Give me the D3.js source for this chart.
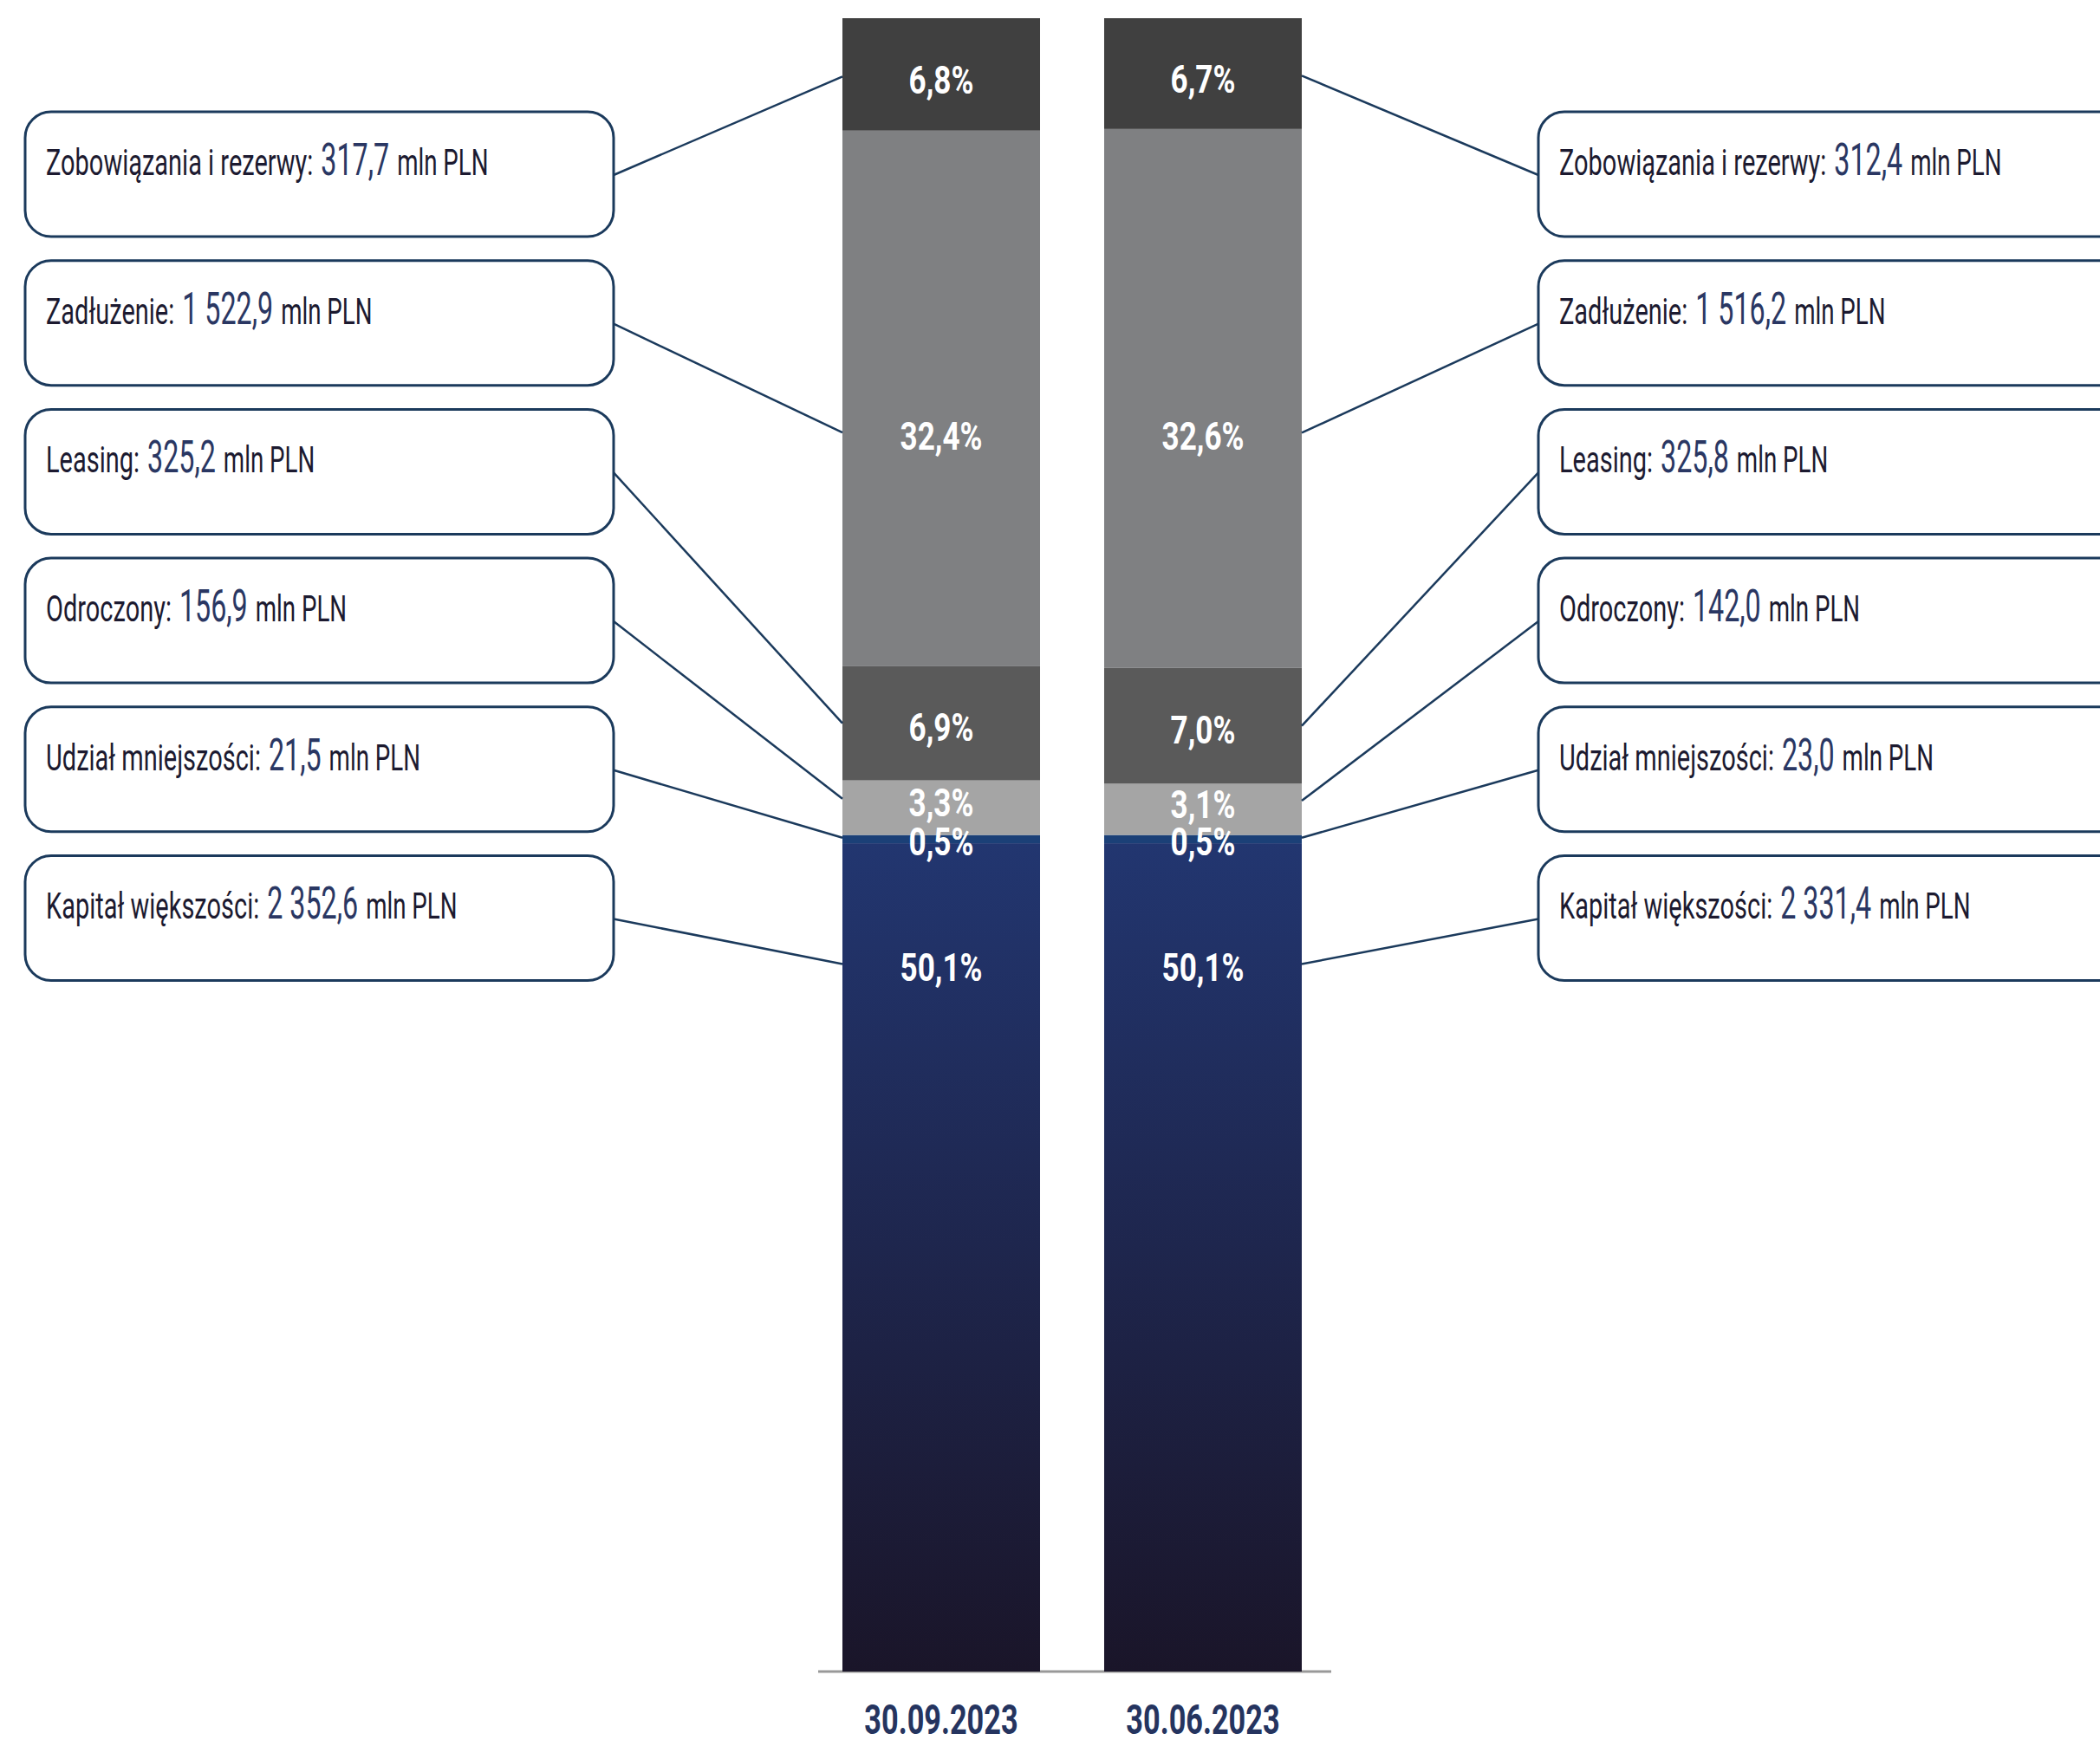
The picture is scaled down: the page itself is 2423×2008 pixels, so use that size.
<!DOCTYPE html>
<html>
<head>
<meta charset="utf-8">
<script src="https://cdn.jsdelivr.net/npm/d3@7"></script>
<style>
  html, body { margin: 0; padding: 0; background: #ffffff; }
  svg { display: block; }
</style>
</head>
<body>
<svg id="chart" width="2423" height="2008"></svg>
<script>
// Balance-sheet structure, two reporting dates
const dates = ["30.09.2023", "30.06.2023"];
const series = ["Kapitał większości", "Udział mniejszości", "Odroczony", "Leasing", "Zadłużenie", "Zobowiązania i rezerwy"];
// share of total (%), same order as series
const pctSep = [50.1, 0.5, 3.3, 6.9, 32.4, 6.8];
const pctJun = [50.1, 0.5, 3.1, 7.0, 32.6, 6.7];
// amounts (mln PLN), same order as series
const mlnSep = [2352.6, 21.5, 156.9, 325.2, 1522.9, 317.7];
const mlnJun = [2331.4, 23.0, 142.0, 325.8, 1516.2, 312.4];
const unit = "mln PLN";

const pctByDate = [pctSep, pctJun];
const mlnByDate = [mlnSep, mlnJun];

// ---- layout & style ----
const FONT = "Roboto, 'Liberation Sans', sans-serif";
const boxStroke = "#1b3a5c";
const segColor = d3.scaleOrdinal()
  .domain(series)
  .range(["url(#capGrad)", "#1b4077", "#a5a5a5", "#5a5a5a", "#7f8082", "#404040"]);
// where the % label sits inside each segment (0 = top, 1 = bottom)
const labelFrac = d3.scaleOrdinal()
  .domain(series)
  .range([0.15, 0.75, 0.4, 0.53, 0.57, 0.55]);

const pl = d3.formatLocale({ decimal: ",", thousands: " ", grouping: [3], currency: ["", " zł"] });
const fmtMln = pl.format(",.1f");
const fmtPct = pl.format(".1f");

const svg = d3.select("#chart");
const defs = svg.append("defs");
const grad = defs.append("linearGradient")
  .attr("id", "capGrad").attr("x1", 0).attr("y1", 0).attr("x2", 0).attr("y2", 1);
grad.append("stop").attr("offset", "0%").attr("stop-color", "#223670");
grad.append("stop").attr("offset", "100%").attr("stop-color", "#1a1529");

const x = d3.scaleBand().domain(dates).range([972, 1502]).paddingInner(0.245).paddingOuter(0);
const y = d3.scaleLinear().domain([0, 100]).range([1929, 21]);

const table = dates.map((d, i) => {
  const row = { date: d };
  series.forEach((s, j) => { row[s] = pctByDate[i][j]; });
  return row;
});
const stacked = d3.stack().keys(series)(table);

// baseline
const base = y(0);
svg.append("line")
  .attr("x1", x.range()[0] - 28).attr("x2", x.range()[1] + 34)
  .attr("y1", base).attr("y2", base)
  .attr("stroke", "#999999").attr("stroke-width", 3);

// stacked bars
const layer = svg.append("g").selectAll("g")
  .data(stacked).join("g")
  .attr("fill", d => segColor(d.key));
layer.selectAll("rect")
  .data(d => d.map(v => Object.assign(v, { key: d.key })))
  .join("rect")
  .attr("x", d => x(d.data.date))
  .attr("width", x.bandwidth())
  .attr("y", d => y(d[1]))
  .attr("height", d => y(d[0]) - y(d[1]));

function labelY(v, key) {
  const top = y(v[1]), bot = y(v[0]);
  return top + labelFrac(key) * (bot - top);
}

// horizontally condensed text
function condensed(parent, px, py, sx) {
  return parent.append("g").attr("transform", `translate(${px},${py}) scale(${sx},1)`);
}

// % labels inside bars
stacked.forEach(s => {
  s.forEach(v => {
    const g = condensed(svg, x(v.data.date) + x.bandwidth() / 2, labelY(v, s.key) + 16, 0.78);
    g.append("text")
      .attr("text-anchor", "middle")
      .attr("font-family", FONT).attr("font-weight", 700).attr("font-size", 45)
      .attr("fill", "#ffffff")
      .text(fmtPct(v[1] - v[0]) + "%");
  });
});

// category labels
dates.forEach(d => {
  const g = condensed(svg, x(d) + x.bandwidth() / 2, 2001, 0.7);
  g.append("text")
    .attr("text-anchor", "middle")
    .attr("font-family", FONT).attr("font-weight", 700).attr("font-size", 49)
    .attr("fill", "#25345f")
    .text(d);
});

// callout boxes
const topDown = series.slice().reverse();
const boxY = d3.scaleBand().domain(topDown).range([129, 1131.5]).paddingInner(0.1613).paddingOuter(0);
const boxW = 679, boxH = boxY.bandwidth();
const sides = [
  { x0: 29, dateIdx: 0 },
  { x0: 1775, dateIdx: 1 }
];

sides.forEach(side => {
  const dIdx = side.dateIdx;
  const date = dates[dIdx];
  topDown.forEach(key => {
    const j = series.indexOf(key);
    const by = boxY(key);
    // leader line
    const v = stacked[j][dIdx];
    const ly = labelY(v, key);
    const barEdge = dIdx === 0 ? x(date) : x(date) + x.bandwidth();
    const boxEdge = dIdx === 0 ? side.x0 + boxW : side.x0;
    svg.append("line")
      .attr("x1", boxEdge).attr("y1", by + 73)
      .attr("x2", barEdge).attr("y2", ly - 4)
      .attr("stroke", boxStroke).attr("stroke-width", 2.5);

    svg.append("rect")
      .attr("x", side.x0).attr("y", by)
      .attr("width", boxW).attr("height", boxH)
      .attr("rx", 30).attr("ry", 30)
      .attr("fill", "#ffffff")
      .attr("stroke", boxStroke).attr("stroke-width", 3);

    // text: "<label>: <value> mln PLN"
    let cx = side.x0 + 24;
    const baseY = by + 73;
    const parts = [
      { t: key + ":", size: 42, sx: 0.69, fill: "#1c1a30" },
      { t: fmtMln(mlnByDate[dIdx][j]), size: 52, sx: 0.62, fill: "#2a3763", gap: 9 },
      { t: unit, size: 42, sx: 0.66, fill: "#1c1a30", gap: 9 }
    ];
    parts.forEach(p => {
      cx += p.gap || 0;
      const g = condensed(svg, cx, baseY, p.sx);
      const t = g.append("text")
        .attr("font-family", FONT).attr("font-weight", 400).attr("font-size", p.size)
        .attr("fill", p.fill)
        .text(p.t);
      cx += t.node().getComputedTextLength() * p.sx;
    });
  });
});
</script>
</body>
</html>
